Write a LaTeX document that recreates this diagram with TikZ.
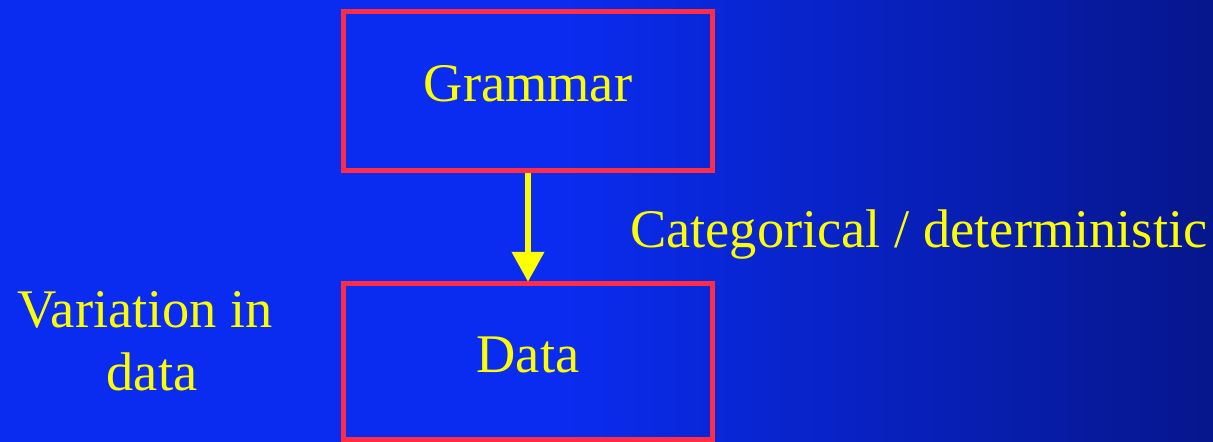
\documentclass[tikz,border=0pt]{standalone}
\usepackage{fontspec}
\setmainfont{Liberation Serif}
\usetikzlibrary{arrows.meta}
\definecolor{bgleft}{RGB}{10,44,240}
\definecolor{bgright}{RGB}{6,22,140}
\definecolor{boxred}{RGB}{255,45,72}
\definecolor{txtyellow}{RGB}{255,255,0}
\tikzset{
  bigfont/.style={font=\fontsize{40.8}{47.25}\selectfont},
  stepbox/.style={draw=boxred, line width=3.75pt, inner sep=0pt,
    text=txtyellow, bigfont, text height=16.5pt, text depth=0pt,
    minimum width=276.4pt},
  label/.style={text=txtyellow, bigfont, inner sep=0pt},
  flow/.style={draw=txtyellow, line width=4.5pt,
    -{Triangle[length=22.5pt,width=23.5pt]}}
}
\begin{document}
\begin{tikzpicture}[x=0.75pt,y=-0.75pt]
  \useasboundingbox (0,0) rectangle (1213,442);
  \fill[bgleft] (0,0) rectangle (560,442);
  \shade[left color=bgleft, right color=bgright] (559,0) rectangle (1213,442);
  \node[stepbox, minimum height=119.6pt] (gbox) at (528,90.75) {Grammar};
  \node[stepbox, minimum height=117pt] (dbox) at (528,361) {Data};
  \draw[flow] (gbox.south) -- ([yshift=-1pt]dbox.north);
  \node[label, anchor=base west] (cat) at (630,247) {Categorical / deterministic};
  \node[label, anchor=base, align=center] (var) at (152,390) {Variation in\hspace*{10pt}\\data};
\end{tikzpicture}
\end{document}
